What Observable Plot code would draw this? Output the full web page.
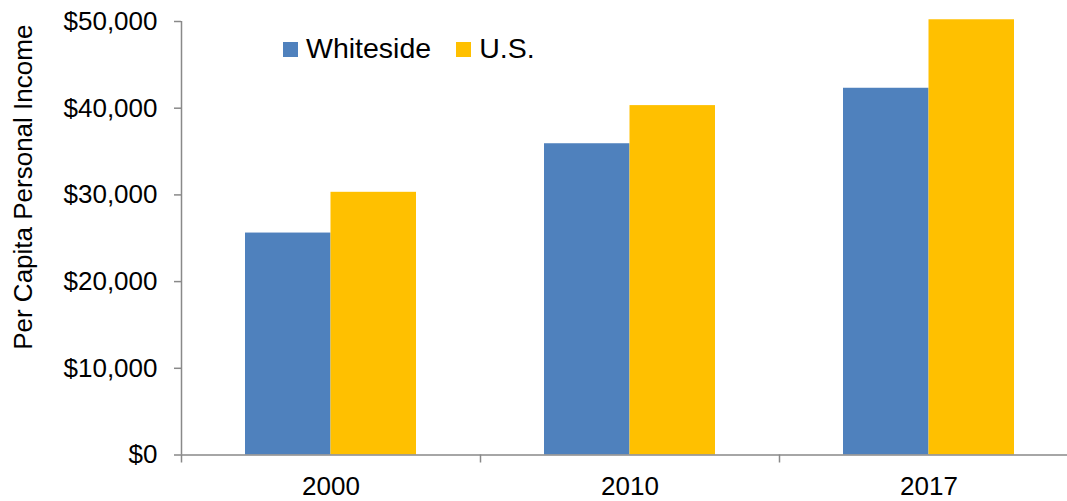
<!DOCTYPE html>
<html>
<head>
<meta charset="utf-8">
<script src="https://cdn.jsdelivr.net/npm/d3@7"></script>
<script src="https://cdn.jsdelivr.net/npm/@observablehq/plot@0.6"></script>
<style>
  html, body { margin: 0; padding: 0; background: white; overflow: hidden; }
  #wrap { position: relative; width: 1067px; height: 501px; font-family: "Liberation Sans", Arial, sans-serif; }
  #legend { position: absolute; left: 283px; top: 33px; display: flex; align-items: center; font-size: 28.5px; line-height: 30px; color: black; }
  #legend .item { display: flex; align-items: center; margin-right: 25px; }
  #legend .sw { width: 15px; height: 15px; margin-right: 8px; position: relative; top: 1px; }
</style>
</head>
<body>
<div id="wrap"></div>
<script>
const years = ["2000", "2010", "2017"];
const series = ["Whiteside", "U.S."];
const whiteside = [25600, 35900, 42300];
const us = [30300, 40300, 50200];
const colors = ["#4F81BD", "#FFC000"];
const yTicks = [0, 10000, 20000, 30000, 40000, 50000];
const yTitle = "Per Capita Personal Income";

const data = years.flatMap((y, i) => [
  {year: y, series: series[0], value: whiteside[i]},
  {year: y, series: series[1], value: us[i]}
]);

const gray = "#898989";
const font = "Liberation Sans, Arial, sans-serif";

const chart = Plot.plot({
  width: 1067,
  height: 501,
  marginLeft: 181,
  marginRight: 0,
  marginTop: 21,
  marginBottom: 46.5,
  style: {fontFamily: font, fontSize: "26px", color: "black", background: "white", overflow: "hidden"},
  x: {domain: years, range: [181, 1078], padding: 0, axis: null},
  y: {domain: [0, yTicks[yTicks.length - 1]], axis: null},
  color: {domain: series, range: colors},
  marks: [
    Plot.barY(data.filter(d => d.series === series[0]), {x: "year", y: "value", fill: "series", insetLeft: 64, insetRight: 149.5}),
    Plot.barY(data.filter(d => d.series === series[1]), {x: "year", y: "value", fill: "series", insetLeft: 149.5, insetRight: 64}),
    Plot.ruleX([years[0]], {x: d => d, y1: yTicks[0], y2: yTicks[yTicks.length - 1], dx: -149.5, stroke: gray, strokeWidth: 1.5}),
    Plot.ruleY([0], {stroke: gray, strokeWidth: 1.5}),
    Plot.axisY({ticks: yTicks, tickFormat: d3.format("$,"), tickSize: 7, tickPadding: 17, stroke: gray, strokeWidth: 1.5, fill: "black", label: null, fontSize: 26}),
    Plot.axisX({tickSize: 8, text: null, dx: -149.5, stroke: gray, strokeWidth: 1.5, label: null}),
    Plot.axisX({tickSize: 0, tickPadding: 22, fill: "black", label: null, fontSize: 26}),
    Plot.text([yTitle], {text: d => d, frameAnchor: "left", rotate: -90, dx: -168, dy: -51, lineAnchor: "top", textAnchor: "middle", fontSize: 26, fill: "black"})
  ]
});

const wrap = document.getElementById("wrap");
wrap.appendChild(chart);

const legend = document.createElement("div");
legend.id = "legend";
series.forEach((s, i) => {
  const item = document.createElement("div");
  item.className = "item";
  const sw = document.createElement("div");
  sw.className = "sw";
  sw.style.background = colors[i];
  const t = document.createElement("span");
  t.textContent = s;
  item.appendChild(sw);
  item.appendChild(t);
  legend.appendChild(item);
});
wrap.appendChild(legend);
</script>
</body>
</html>
